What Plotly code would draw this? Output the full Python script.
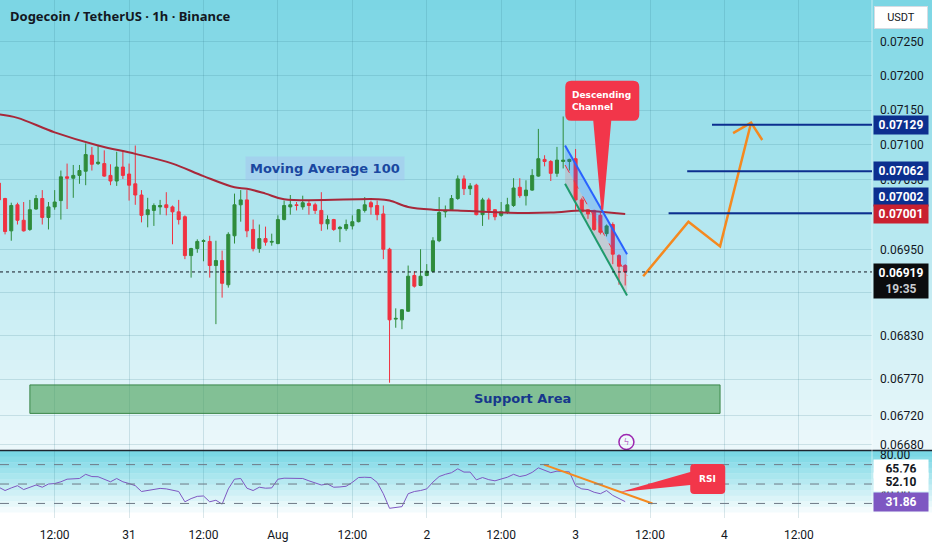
import math
import pandas as pd
import plotly.graph_objects as go
from plotly.subplots import make_subplots

# hourly DOGE/USDT candles, first one at 2023-07-30 03:00
first_candle = "2023-07-30 03:00"

opens = [
    0.07045, 0.07023, 0.06977, 0.07014, 0.06992, 0.06979, 0.07008, 0.07023, 0.06996, 0.07011,
    0.07020, 0.07054, 0.07052, 0.07056, 0.07062, 0.07085, 0.07073, 0.07073, 0.07056, 0.07048,
    0.07068, 0.07058, 0.07044, 0.07028, 0.07000, 0.07006, 0.07011, 0.07014, 0.07011, 0.07004,
    0.06997, 0.06942, 0.06952, 0.06962, 0.06962, 0.06928, 0.06935, 0.06901, 0.06970, 0.07014,
    0.07021, 0.06979, 0.06952, 0.06966, 0.06961, 0.06959, 0.06993, 0.07011, 0.07014, 0.07011,
    0.07016, 0.07014, 0.07006, 0.06987, 0.06993, 0.06980, 0.06980, 0.06984, 0.06990, 0.07006,
    0.07017, 0.07013, 0.07001, 0.06951, 0.06853, 0.06852, 0.06864, 0.06914, 0.06900, 0.06914,
    0.06920, 0.06963, 0.07004, 0.07007, 0.07023, 0.07051, 0.07037, 0.07042, 0.07000, 0.07021,
    0.07007, 0.06999, 0.07003, 0.07013, 0.07039, 0.07027, 0.07035, 0.07055, 0.07079, 0.07076,
    0.07059, 0.07076, 0.07076, 0.07080, 0.07021, 0.07007, 0.07006, 0.06999, 0.06973, 0.06986,
    0.06942, 0.06928,
]
highs = [
    0.07052, 0.07024, 0.07017, 0.07017, 0.07018, 0.07021, 0.07028, 0.07035, 0.07018, 0.07035,
    0.07063, 0.07073, 0.07071, 0.07071, 0.07102, 0.07097, 0.07100, 0.07092, 0.07072, 0.07090,
    0.07092, 0.07073, 0.07099, 0.07035, 0.07024, 0.07016, 0.07021, 0.07032, 0.07013, 0.07021,
    0.06999, 0.06953, 0.06965, 0.06965, 0.06970, 0.06963, 0.06949, 0.06975, 0.07030, 0.07035,
    0.07035, 0.06993, 0.06986, 0.06983, 0.06973, 0.06999, 0.07020, 0.07028, 0.07018, 0.07027,
    0.07020, 0.07017, 0.07032, 0.06999, 0.06994, 0.06984, 0.06993, 0.06999, 0.07008, 0.07025,
    0.07020, 0.07020, 0.07013, 0.06953, 0.06868, 0.06867, 0.06928, 0.06920, 0.06951, 0.06930,
    0.06968, 0.07025, 0.07013, 0.07028, 0.07056, 0.07056, 0.07045, 0.07044, 0.07024, 0.07024,
    0.07008, 0.07018, 0.07024, 0.07052, 0.07052, 0.07049, 0.07065, 0.07123, 0.07085, 0.07078,
    0.07097, 0.07141, 0.07080, 0.07094, 0.07024, 0.07008, 0.07007, 0.07003, 0.06986, 0.06989,
    0.06944, 0.06930,
]
lows = [
    0.07017, 0.06972, 0.06963, 0.06986, 0.06976, 0.06977, 0.07007, 0.06986, 0.06979, 0.07007,
    0.06993, 0.07008, 0.07024, 0.07044, 0.07042, 0.07063, 0.07071, 0.07054, 0.07042, 0.07041,
    0.07051, 0.07020, 0.07014, 0.06989, 0.06982, 0.06984, 0.07000, 0.06999, 0.06958, 0.06986,
    0.06937, 0.06911, 0.06946, 0.06934, 0.06911, 0.06846, 0.06883, 0.06897, 0.06959, 0.06990,
    0.06968, 0.06948, 0.06946, 0.06956, 0.06956, 0.06958, 0.06992, 0.07000, 0.07006, 0.07007,
    0.07000, 0.07001, 0.06977, 0.06979, 0.06977, 0.06961, 0.06977, 0.06979, 0.06989, 0.07003,
    0.07000, 0.06992, 0.06937, 0.06765, 0.06841, 0.06839, 0.06863, 0.06897, 0.06899, 0.06913,
    0.06918, 0.06961, 0.06996, 0.07006, 0.07021, 0.07028, 0.07028, 0.06999, 0.06984, 0.06993,
    0.06992, 0.06997, 0.07001, 0.07011, 0.07024, 0.07013, 0.07034, 0.07054, 0.07069, 0.07048,
    0.07054, 0.07066, 0.07063, 0.07007, 0.07003, 0.06994, 0.06977, 0.06972, 0.06969, 0.06930,
    0.06901, 0.06900,
]
closes = [
    0.07021, 0.06976, 0.07013, 0.06992, 0.06977, 0.07007, 0.07023, 0.06996, 0.07011, 0.07018,
    0.07054, 0.07052, 0.07056, 0.07063, 0.07086, 0.07072, 0.07075, 0.07055, 0.07048, 0.07068,
    0.07056, 0.07042, 0.07028, 0.06999, 0.07007, 0.07013, 0.07013, 0.07010, 0.07004, 0.06993,
    0.06942, 0.06952, 0.06962, 0.06963, 0.06928, 0.06935, 0.06903, 0.06972, 0.07014, 0.07021,
    0.06977, 0.06952, 0.06966, 0.06961, 0.06962, 0.06993, 0.07013, 0.07014, 0.07013, 0.07017,
    0.07013, 0.07006, 0.06987, 0.06993, 0.06979, 0.06982, 0.06986, 0.06990, 0.07007, 0.07014,
    0.07011, 0.07000, 0.06951, 0.06852, 0.06854, 0.06866, 0.06913, 0.06899, 0.06913, 0.06920,
    0.06963, 0.07003, 0.07006, 0.07023, 0.07051, 0.07037, 0.07041, 0.07000, 0.07021, 0.07006,
    0.06997, 0.07004, 0.07014, 0.07038, 0.07027, 0.07035, 0.07056, 0.07080, 0.07076, 0.07059,
    0.07078, 0.07078, 0.07079, 0.07021, 0.07004, 0.07001, 0.06979, 0.06975, 0.06984, 0.06944,
    0.06927, 0.06919,
]
rsi = [
    46.7, 43.3, 46.0, 48.3, 44.3, 47.0, 49.0, 46.7, 50.0, 50.5,
    52.3, 55.0, 55.2, 55.7, 60.0, 57.7, 57.5, 55.0, 52.3, 55.7,
    52.3, 50.5, 48.3, 42.3, 43.5, 45.0, 45.5, 45.0, 44.0, 42.3,
    31.7, 35.0, 37.3, 37.7, 31.7, 33.3, 29.3, 45.0, 55.0, 55.7,
    45.7, 43.3, 46.7, 45.7, 46.0, 55.0, 56.0, 55.7, 55.5, 55.7,
    53.3, 51.0, 49.0, 50.0, 46.7, 47.0, 47.7, 51.7, 56.7, 57.0,
    56.7, 51.7, 40.0, 25.0, 25.5, 26.7, 40.0, 42.3, 43.3, 45.0,
    52.0, 57.7, 60.0, 61.7, 65.7, 62.3, 62.3, 54.3, 56.7, 54.5,
    53.3, 55.0, 57.0, 60.0, 57.7, 59.0, 62.0, 66.7, 64.0, 61.7,
    63.3, 63.0, 62.5, 48.3, 45.0, 44.3, 41.5, 40.0, 43.3, 38.3,
    35.0, 31.86,
]

ma_times = [
    "2023-07-30 03:00", "2023-07-30 06:00", "2023-07-30 12:00", "2023-07-30 19:00",
    "2023-07-31 01:00", "2023-07-31 07:00", "2023-07-31 12:00", "2023-07-31 17:00",
    "2023-07-31 19:00", "2023-07-31 22:00", "2023-08-01 01:00", "2023-08-01 16:00",
    "2023-08-01 18:00", "2023-08-01 21:00", "2023-08-02 01:00", "2023-08-02 05:00",
    "2023-08-02 12:00", "2023-08-02 20:00", "2023-08-03 01:00", "2023-08-03 04:00",
    "2023-08-03 08:00",
]
ma_values = [
    0.07144, 0.07139, 0.07118, 0.07099, 0.07087, 0.07073, 0.07055, 0.07039,
    0.07037, 0.07030, 0.07022, 0.07022, 0.07020, 0.07011, 0.07007, 0.07006,
    0.07003, 0.07003, 0.07006, 0.07004, 0.07001,
]

price_ticks = [0.0725, 0.0720, 0.0715, 0.0710, 0.0705, 0.0700, 0.0695, 0.0689, 0.0683, 0.0677, 0.0672, 0.0668]
time_ticks = [
    "2023-07-30 12:00", "2023-07-31 00:00", "2023-07-31 12:00", "2023-08-01 00:00",
    "2023-08-01 12:00", "2023-08-02 00:00", "2023-08-02 12:00", "2023-08-03 00:00",
    "2023-08-03 12:00", "2023-08-04 00:00", "2023-08-04 12:00",
]
time_labels = ["12:00", "31", "12:00", "Aug", "12:00", "2", "12:00", "3", "12:00", "4", "12:00"]

levels = [0.07129, 0.07062, 0.07002]
level_starts = ["2023-08-03 22:00", "2023-08-03 18:00", "2023-08-03 15:00"]

path_times = ["2023-08-03 10:54", "2023-08-03 18:12", "2023-08-03 23:18", "2023-08-04 04:18"]
path_prices = [0.06913, 0.06990, 0.06955, 0.07132]
arrow_times = ["2023-08-04 01:24", "2023-08-04 04:18", "2023-08-04 06:06"]
arrow_prices = [0.07117, 0.07132, 0.07107]

channel_times = ["2023-08-02 22:18", "2023-08-03 08:18"]
channel_upper = [0.07099, 0.06944]
channel_mid = [0.07071, 0.06914]
channel_lower = [0.07044, 0.06886]

support_times = ["2023-07-30 08:00", "2023-08-03 23:18"]
support_prices = [0.06723, 0.06762]

rsi_trend_times = ["2023-08-02 18:54", "2023-08-03 12:24"]
rsi_trend_values = [70, 30]
rsi_levels = [70, 50, 30]
rsi_tags = [65.76, 52.10]

last_price = 0.06919
ma_last = 0.07001
alert_time = "2023-08-03 08:12"
alert_price = 0.06684

GREEN = "#2f8c3c"
RED = "#f03241"
ORANGE = "#f5891f"
NAVY = "#0c2f8f"
FONT = "Roboto"

times = pd.date_range(first_candle, periods=len(opens), freq="h")

fig = make_subplots(rows=2, cols=1, shared_xaxes=True, vertical_spacing=0.0)

fig.add_trace(go.Candlestick(
    x=times, open=opens, high=highs, low=lows, close=closes,
    increasing=dict(line=dict(color=GREEN, width=1), fillcolor=GREEN),
    decreasing=dict(line=dict(color=RED, width=1), fillcolor=RED),
    whiskerwidth=0, hoverinfo="skip", showlegend=False,
), row=1, col=1)

fig.add_trace(go.Scatter(
    x=ma_times, y=ma_values, mode="lines", showlegend=False, hoverinfo="skip",
    line=dict(color="#a8283a", width=2, shape="spline"),
), row=1, col=1)

# descending channel: two shaded halves, the borders and the dashed middle
fig.add_trace(go.Scatter(
    x=channel_times + channel_times[::-1], y=channel_upper + channel_mid[::-1],
    fill="toself", fillcolor="rgba(41,98,255,0.22)", line=dict(width=0),
    mode="lines", showlegend=False, hoverinfo="skip",
), row=1, col=1)
fig.add_trace(go.Scatter(
    x=channel_times + channel_times[::-1], y=channel_mid + channel_lower[::-1],
    fill="toself", fillcolor="rgba(242,54,69,0.16)", line=dict(width=0),
    mode="lines", showlegend=False, hoverinfo="skip",
), row=1, col=1)
fig.add_trace(go.Scatter(x=channel_times, y=channel_upper, mode="lines", showlegend=False,
                         hoverinfo="skip", line=dict(color="#2962ff", width=2)), row=1, col=1)
fig.add_trace(go.Scatter(x=channel_times, y=channel_lower, mode="lines", showlegend=False,
                         hoverinfo="skip", line=dict(color="#1f9a6c", width=2)), row=1, col=1)
fig.add_trace(go.Scatter(x=channel_times, y=channel_mid, mode="lines", showlegend=False,
                         hoverinfo="skip", line=dict(color=RED, width=1, dash="dash")), row=1, col=1)

# projected path
fig.add_trace(go.Scatter(x=path_times, y=path_prices, mode="lines", showlegend=False,
                         hoverinfo="skip", line=dict(color=ORANGE, width=2.5)), row=1, col=1)
fig.add_trace(go.Scatter(x=arrow_times, y=arrow_prices, mode="lines", showlegend=False,
                         hoverinfo="skip", line=dict(color=ORANGE, width=2.5)), row=1, col=1)

# alert icon
fig.add_trace(go.Scatter(x=[alert_time], y=[alert_price], mode="markers+text", text=["ϟ"],
                         textposition="middle center", textfont=dict(size=11, color="#9c27b0"),
                         marker=dict(symbol="circle", size=15, color="rgba(255,255,255,0.25)",
                                     line=dict(color="#9c27b0", width=1.5)),
                         showlegend=False, hoverinfo="skip"), row=1, col=1)

# RSI pane
fig.add_trace(go.Scatter(x=times, y=rsi, mode="lines", showlegend=False, hoverinfo="skip",
                         line=dict(color="#7e57c2", width=1)), row=2, col=1)
fig.add_trace(go.Scatter(x=rsi_trend_times, y=rsi_trend_values, mode="lines", showlegend=False,
                         hoverinfo="skip", line=dict(color=ORANGE, width=2)), row=2, col=1)


def mix(c1, c2, t):
    return "rgb({},{},{})".format(*[round(a + (b - a) * t) for a, b in zip(c1, c2)])


main_bottom = 0.1313
rsi_top = 0.1293
x_full = 932 / 872
shapes = []

# background gradients for both panes
n = 45
for i in range(n):
    y1 = 1 - (1 - main_bottom) * i / n
    y0 = 1 - (1 - main_bottom) * (i + 1) / n
    shapes.append(dict(type="rect", xref="paper", yref="paper", x0=0, x1=x_full,
                       y0=y0 - 0.001, y1=y1, layer="below", line_width=0,
                       fillcolor=mix((124, 214, 228), (236, 248, 251), i / (n - 1))))
n = 12
for i in range(n):
    y1 = rsi_top * (1 - i / n)
    y0 = rsi_top * (1 - (i + 1) / n)
    shapes.append(dict(type="rect", xref="paper", yref="paper", x0=0, x1=x_full,
                       y0=y0 - 0.001, y1=y1, layer="below", line_width=0,
                       fillcolor=mix((122, 215, 229), (255, 255, 255), i / (n - 1))))

# pane separator and price-scale border
shapes.append(dict(type="line", xref="paper", yref="paper", x0=0, x1=x_full,
                   y0=0.1303, y1=0.1303, line=dict(color="#1e2530", width=1.5)))
shapes.append(dict(type="line", xref="paper", yref="paper", x0=1, x1=1, y0=0, y1=1,
                   line=dict(color="rgba(255,255,255,0.55)", width=1)))

# support zone
shapes.append(dict(type="rect", xref="x", yref="y", x0=support_times[0], x1=support_times[1],
                   y0=support_prices[0], y1=support_prices[1],
                   fillcolor="rgba(72,160,88,0.62)", line=dict(color="rgba(46,125,60,0.9)", width=1)))

# target levels
for lv, st in zip(levels, level_starts):
    shapes.append(dict(type="line", xref="x", yref="y", x0=st, x1="2023-08-06",
                       y0=lv, y1=lv, line=dict(color=NAVY, width=2)))

# last price dotted line
shapes.append(dict(type="line", xref="paper", yref="y", x0=0, x1=1, y0=last_price, y1=last_price,
                   line=dict(color="#131722", width=1, dash="dot")))

# RSI guide levels
for lv in rsi_levels:
    shapes.append(dict(type="line", xref="paper", yref="y2", x0=0, x1=1, y0=lv, y1=lv,
                       line=dict(color="#6f7a86", width=1, dash="dash")))

# callout bubbles (pixel-sized, anchored to the point they mark)
shapes.append(dict(type="path", xref="x", yref="y", xsizemode="pixel", ysizemode="pixel",
                   xanchor="2023-08-03 04:18", yanchor=0.07007, fillcolor="#f2364a", line_width=0,
                   path="M -31,89 L -9,89 L -1,0 L 1,0 L 9,89 L 31,89 Q 37,89 37,95 L 37,123 "
                        "Q 37,129 31,129 L -31,129 Q -37,129 -37,123 L -37,95 Q -37,89 -31,89 Z"))
shapes.append(dict(type="path", xref="x2", yref="y2", xsizemode="pixel", ysizemode="pixel",
                   xanchor="2023-08-03 07:12", yanchor=41.8, fillcolor="#f2364a", line_width=0,
                   path="M 0,0 L 70,20 L 70,24 Q 70,28 74,28 L 101,28 Q 105,28 105,24 L 105,2 "
                        "Q 105,-2 101,-2 L 74,-2 Q 70,-2 70,2 L 70,7 Z"))

annotations = []
L = math.log10

annotations.append(dict(xref="paper", yref="paper", x=8 / 872, y=1 - 16 / 518,
                        xanchor="left", yanchor="middle", showarrow=False,
                        text="Dogecoin / TetherUS · 1h · Binance",
                        font=dict(family="Noto Sans", size=13, color="#131722", weight="bold")))
annotations.append(dict(xref="paper", yref="paper", x=1 + 29 / 872, y=1 - 17 / 518,
                        xanchor="center", yanchor="middle", showarrow=False, text="USDT",
                        bgcolor="#ffffff", bordercolor="#d6dce3", borderwidth=1, borderpad=4,
                        width=44, font=dict(family=FONT, size=11, color="#131722")))

annotations.append(dict(xref="x", yref="y", x="2023-08-01 07:36", y=L(0.07066), showarrow=False,
                        text="Moving Average 100", bgcolor="rgba(165,190,240,0.45)", borderpad=4,
                        font=dict(family="DejaVu Sans", size=13, color="#1a47a0", weight="bold")))
annotations.append(dict(xref="x", yref="y", x="2023-08-02 15:30", y=L(0.06743), showarrow=False,
                        text="Support Area",
                        font=dict(family="DejaVu Sans", size=13, color="#16378c", weight="bold")))
annotations.append(dict(xref="x", yref="y", x="2023-08-03 04:18", y=L(0.07007), yshift=109,
                        xshift=-1, showarrow=False, align="left", text="Descending<br>Channel",
                        font=dict(family="DejaVu Sans", size=9, color="#ffffff", weight="bold")))
annotations.append(dict(xref="x2", yref="y2", x="2023-08-03 07:12", y=41.8, xshift=87, yshift=13,
                        showarrow=False, text="RSI",
                        font=dict(family="DejaVu Sans", size=9, color="#ffffff", weight="bold")))


def value_tag(y, text, bg, yref="y", fg="#ffffff", shift=0):
    annotations.append(dict(
        xref="paper", yref=yref, x=1, y=y, yshift=shift,
        xanchor="left", xshift=1, showarrow=False, text=text,
        bgcolor=bg, borderpad=2, width=50,
        font=dict(family=FONT, size=12, color=fg, weight="bold"),
    ))


value_tag(L(levels[0]), "{:.5f}".format(levels[0]), NAVY)
value_tag(L(levels[1]), "{:.5f}".format(levels[1]), NAVY)
value_tag(L(levels[2]), "{:.5f}".format(levels[2]), NAVY, shift=16)
value_tag(L(ma_last), "{:.5f}".format(ma_last), "#c9202f")
annotations.append(dict(
    xref="paper", yref="y", x=1, y=L(last_price), yshift=9, xshift=1, xanchor="left",
    yanchor="top", showarrow=False, bgcolor="#0b0c0e", borderpad=2, width=50,
    text="{:.5f}<br><span style='color:#c9ccd1'>19:35</span>".format(last_price),
    font=dict(family=FONT, size=12, color="#ffffff", weight="bold"),
))
for v in rsi_tags:
    value_tag(v, "{:.2f}".format(v), "#ffffff", yref="y2", fg="#131722")
value_tag(rsi[-1], "{:.2f}".format(rsi[-1]), "#7e57c2", yref="y2")

fig.update_layout(
    width=932, height=550,
    margin=dict(l=0, r=60, t=0, b=32),
    paper_bgcolor="#ffffff", plot_bgcolor="rgba(0,0,0,0)",
    shapes=shapes, annotations=annotations,
    showlegend=False, hovermode=False,
    font=dict(family=FONT, size=12, color="#131722"),
)

grid = "rgba(40,110,130,0.17)"
x_range = ["2023-07-30 03:11", "2023-08-04 23:48"]
fig.update_xaxes(range=x_range, tickvals=time_ticks, ticktext=time_labels, showgrid=True,
                 gridcolor=grid, zeroline=False, showline=False, ticks="",
                 rangeslider_visible=False)
fig.update_xaxes(showticklabels=False, row=1, col=1)
fig.update_xaxes(ticklabelstandoff=8, tickfont=dict(size=12), row=2, col=1)

fig.update_yaxes(type="log", domain=[main_bottom, 1], range=[L(0.066732), L(0.07312)],
                 side="right", tickvals=price_ticks, ticktext=["{:.5f}".format(v) for v in price_ticks],
                 showgrid=True, gridcolor=grid, zeroline=False, ticks="", ticklabelstandoff=7,
                 automargin=False, tickfont=dict(size=12), row=1, col=1)
fig.update_yaxes(domain=[0, rsi_top], range=[15, 84], side="right", tickvals=[80, 40],
                 ticktext=["80.00", "40.00"], showgrid=False, zeroline=False, ticks="",
                 automargin=False, ticklabelstandoff=7, tickfont=dict(size=12), row=2, col=1)

# the page is photographed at exactly 932x550, so drop the default body margin
fig.write_html("out.html", config={"displayModeBar": False},
               post_script="document.body.style.margin='0';")
